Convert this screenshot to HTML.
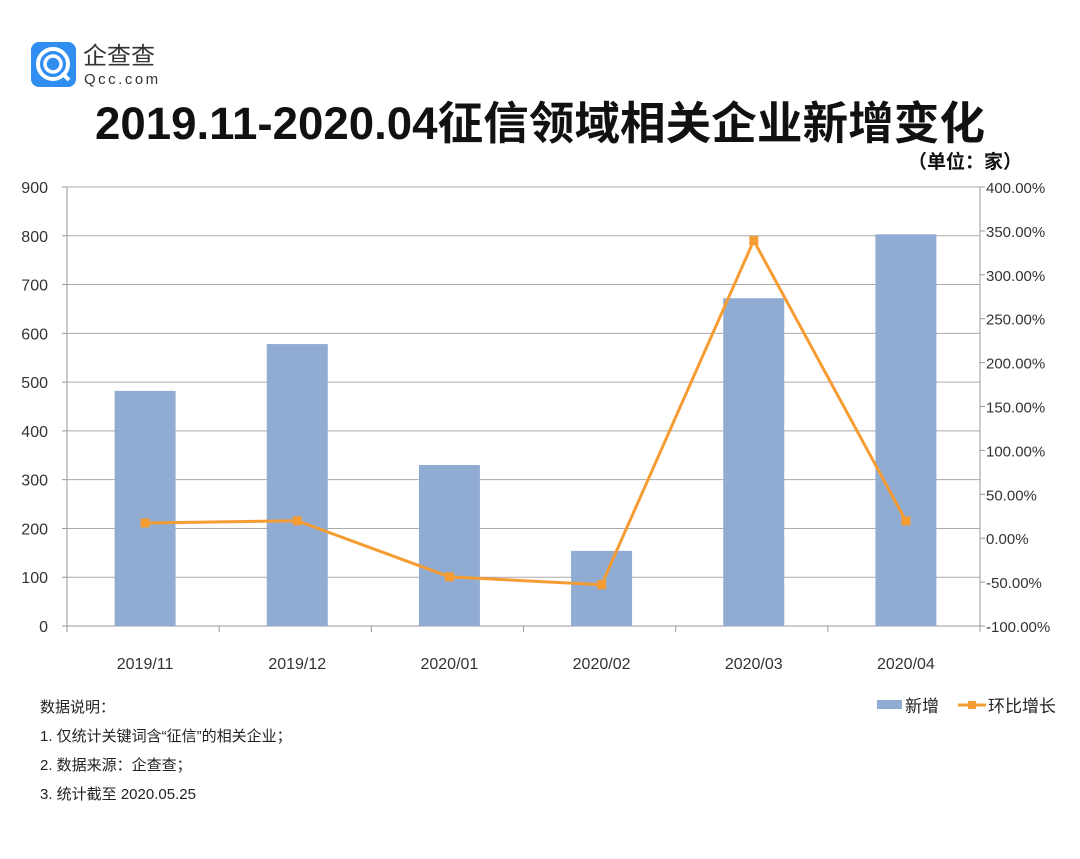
<!DOCTYPE html>
<html><head><meta charset="utf-8"><style>
body{margin:0;background:#fff;width:1080px;height:854px;overflow:hidden;font-family:"Liberation Sans","Noto Sans CJK SC",sans-serif}
</style></head><body>
<svg id="c" width="1080" height="854" xmlns="http://www.w3.org/2000/svg" style="font-family:'Liberation Sans','Noto Sans CJK SC',sans-serif">
<g>
<rect x="31" y="42" width="45" height="45" rx="8" fill="#2f8ef0"/>
<circle cx="53" cy="64" r="15" fill="none" stroke="#fff" stroke-width="4"/>
<circle cx="53" cy="64" r="8" fill="none" stroke="#fff" stroke-width="3.5"/>
<line x1="62" y1="73" x2="69" y2="80" stroke="#fff" stroke-width="4"/>
<text x="83" y="64" font-size="24" fill="#333">企查查</text>
<text x="84" y="84" font-size="15" fill="#333" letter-spacing="2.5">Qcc.com</text>
</g>
<text x="540" y="139" font-size="45" font-weight="bold" text-anchor="middle" fill="#111" textLength="890" lengthAdjust="spacingAndGlyphs">2019.11-2020.04征信领域相关企业新增变化</text>
<text x="1022" y="168" font-size="19" font-weight="bold" text-anchor="end" fill="#111">（单位：家）</text>
<g id="plot"></g>
<g font-size="15" fill="#222">
<text x="40" y="712">数据说明：</text>
<text x="40" y="741">1. 仅统计关键词含“征信”的相关企业；</text>
<text x="40" y="770">2. 数据来源：企查查；</text>
<text x="40" y="799">3. 统计截至 2020.05.25</text>
</g>
<g font-size="17" fill="#222">
<rect x="877" y="700" width="25" height="9" fill="#91acd2"/>
<text x="905" y="712">新增</text>
<line x1="958" y1="705" x2="986" y2="705" stroke="#f59c32" stroke-width="3"/>
<rect x="968" y="701" width="8" height="8" fill="#f59c32"/>
<text x="988" y="712">环比增长</text>
</g>
</svg>
<script>
const categories=["2019/11","2019/12","2020/01","2020/02","2020/03","2020/04"];
const newCounts=[482,578,330,154,672,803];
const growthPct=[17.3,19.9,-44,-53,339,19.6];
const leftTicks=[0,100,200,300,400,500,600,700,800,900];
const rightTicks=[-100,-50,0,50,100,150,200,250,300,350,400];
const NS="http://www.w3.org/2000/svg";
const L=67,R=980,T=187,B=626;
const yL=v=>B-(v/900)*(B-T);
const yR=v=>B-((v+100)/500)*(B-T);
const bw=(R-L)/categories.length;
const xC=i=>L+bw*(i+0.5)+2;
const g=document.getElementById('plot');
function mk(t,a,p){const e=document.createElementNS(NS,t);for(const k in a)e.setAttribute(k,a[k]);(p||g).appendChild(e);return e;}
leftTicks.forEach(v=>{
 const ln=mk('line',{x1:L,x2:R,y1:yL(v),y2:yL(v),stroke:v===0?'#999':'#aaa','stroke-width':1});
 
 
 mk('line',{x1:L-5,x2:L,y1:yL(v),y2:yL(v),stroke:'#999'});
 const t=mk('text',{x:48,y:yL(v)+6,'font-size':16,'text-anchor':'end',fill:'#333'});t.textContent=v;
 
 
});
rightTicks.forEach(v=>{
 mk('line',{x1:R,x2:R+5,y1:yR(v),y2:yR(v),stroke:'#999'});
 const t=mk('text',{x:986,y:yR(v)+6,'font-size':15,fill:'#333'});t.textContent=v.toFixed(2)+'%';
 
 
});
mk('line',{x1:L,x2:L,y1:T,y2:B,stroke:'#999'});
mk('line',{x1:R,x2:R,y1:T,y2:B,stroke:'#999'});
for(let i=0;i<=categories.length;i++){mk('line',{x1:L+bw*i,x2:L+bw*i,y1:B,y2:B+6,stroke:'#999'});}
categories.forEach((c,i)=>{
 const r=mk('rect',{x:xC(i)-30.5,y:yL(newCounts[i]),width:61,height:B-yL(newCounts[i]),fill:'#91acd2'});
 
 
 const t=mk('text',{x:xC(i),y:669,'font-size':16,'text-anchor':'middle',fill:'#333'});t.textContent=c;
 
 
});
const pl=mk('polyline',{points:growthPct.map((v,i)=>xC(i)+','+yR(v)).join(' '),fill:'none',stroke:'#f59c32','stroke-width':3,'stroke-linejoin':'round'});


growthPct.forEach((v,i)=>{
 const m=mk('rect',{x:xC(i)-4.5,y:yR(v)-4.5,width:9,height:9,fill:'#f59c32'});
 
 
});
</script>
</body></html>
